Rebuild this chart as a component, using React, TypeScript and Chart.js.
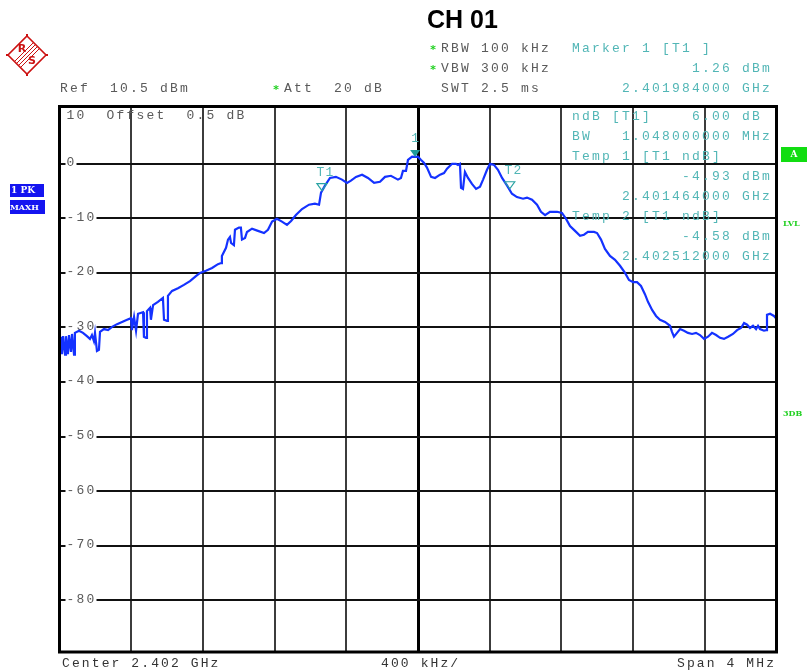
import React, { useEffect, useRef } from "react";
import { Chart, registerables } from "chart.js";

Chart.register(...registerables);

// ---- Trace data (Max hold, frequency in MHz, level in dBm) ----
const FREQ_MHZ = [
  2400.008, 2400.014, 2400.02, 2400.031, 2400.036, 2400.047, 2400.053, 2400.064, 2400.07, 2400.081, 2400.086,
  2400.109, 2400.131, 2400.153, 2400.17, 2400.181, 2400.192, 2400.198, 2400.209, 2400.22, 2400.226,
  2400.248, 2400.271, 2400.293, 2400.321, 2400.349, 2400.377, 2400.399, 2400.404, 2400.416, 2400.427,
  2400.438, 2400.466, 2400.471, 2400.483, 2400.488, 2400.505, 2400.51, 2400.522, 2400.549, 2400.577,
  2400.583, 2400.6, 2400.605, 2400.628, 2400.661, 2400.694, 2400.728, 2400.761, 2400.784, 2400.817,
  2400.851, 2400.884, 2400.901, 2400.906, 2400.929, 2400.94, 2400.951, 2400.957, 2400.973, 2400.979,
  2401.001, 2401.012, 2401.018, 2401.035, 2401.046, 2401.074, 2401.107, 2401.141, 2401.163, 2401.186,
  2401.213, 2401.241, 2401.269, 2401.292, 2401.319, 2401.353, 2401.392, 2401.425, 2401.448, 2401.459,
  2401.481, 2401.509, 2401.542, 2401.576, 2401.604, 2401.626, 2401.654, 2401.688, 2401.721, 2401.755,
  2401.788, 2401.816, 2401.849, 2401.888, 2401.905, 2401.916, 2401.933, 2401.944, 2401.967, 2401.984, 2402.0,
  2402.017, 2402.033, 2402.05, 2402.073, 2402.095, 2402.123, 2402.145, 2402.162, 2402.19, 2402.212,
  2402.223, 2402.234, 2402.24, 2402.251, 2402.262, 2402.279, 2402.301, 2402.324, 2402.346, 2402.363,
  2402.385, 2402.402, 2402.424, 2402.446, 2402.469, 2402.497, 2402.524, 2402.552, 2402.586, 2402.608,
  2402.636, 2402.664, 2402.686, 2402.709, 2402.736, 2402.776, 2402.803, 2402.826, 2402.848, 2402.876,
  2402.904, 2402.926, 2402.948, 2402.982, 2402.999, 2403.021, 2403.043, 2403.071, 2403.099, 2403.127,
  2403.155, 2403.177, 2403.2, 2403.222, 2403.244, 2403.266, 2403.283, 2403.306, 2403.328, 2403.35,
  2403.378, 2403.406, 2403.417, 2403.428, 2403.445, 2403.462, 2403.484, 2403.506, 2403.529, 2403.551,
  2403.573, 2403.596, 2403.618, 2403.64, 2403.663, 2403.685, 2403.707, 2403.73, 2403.757, 2403.78,
  2403.802, 2403.819, 2403.836, 2403.852, 2403.869, 2403.886, 2403.897, 2403.908, 2403.93, 2403.942,
  2403.947, 2403.964, 2403.986, 2403.997,
];

const LEVEL_DBM = [
  -31.7, -34.9, -31.6, -35.0, -31.6, -34.9, -31.4, -34.5, -31.2, -35.0, -31.0,
  -30.6, -31.0, -31.6, -32.1, -31.4, -32.5, -31.0, -34.3, -34.1, -30.8,
  -30.3, -30.5, -29.9, -29.4, -29.0, -28.6, -28.3, -30.5, -28.1, -30.6,
  -27.5, -27.2, -31.7, -31.9, -27.0, -26.4, -28.6, -25.9, -25.3, -24.6,
  -28.6, -28.8, -24.2, -23.3, -22.8, -22.2, -21.5, -20.6, -20.0, -19.6,
  -19.1, -18.4, -18.2, -16.9, -15.4, -13.9, -13.4, -14.5, -14.9, -12.1,
  -11.7, -11.7, -13.9, -13.6, -12.5, -11.9, -12.3, -12.7, -12.1, -10.6,
  -10.1, -10.6, -11.2, -10.5, -9.4, -8.3, -7.5, -7.3, -7.5, -5.3,
  -4.0, -2.6, -2.4, -2.9, -3.5, -3.1, -2.4, -2.0, -2.6, -3.5,
  -3.3, -2.4, -2.2, -2.9, -2.6, -1.3, -1.3, 0.7, 1.3, 1.26, 1.3,
  0.7, 0.2, -0.7, -2.4, -2.6, -2.0, -1.7, -0.9, 0.0, 0.0,
  -0.2, 0.0, -4.4, -4.6, -1.5, -2.6, -3.7, -4.6, -4.2, -2.9,
  -1.1, 0.0, -0.2, -1.1, -2.6, -4.0, -5.5, -6.1, -6.4, -6.2,
  -6.6, -7.5, -8.8, -9.4, -8.8, -8.8, -9.0, -10.1, -11.4, -12.3,
  -13.2, -13.0, -12.5, -12.5, -12.7, -13.9, -15.6, -16.9, -17.6, -18.7,
  -20.0, -21.3, -21.7, -21.7, -22.4, -23.9, -25.3, -26.8, -27.9, -28.6,
  -29.0, -29.7, -30.8, -31.7, -31.0, -30.3, -30.6, -31.0, -31.2, -31.0,
  -31.4, -32.1, -31.7, -31.0, -31.4, -31.9, -32.1, -31.7, -31.2, -30.5,
  -30.1, -29.2, -29.5, -30.1, -29.7, -30.3, -29.7, -30.3, -30.6, -30.5,
  -27.7, -27.5, -27.9, -28.3,
];

// ---- Axes ----
const X_MIN_MHZ = 2400.0;
const X_MAX_MHZ = 2404.0;
const CENTER_MHZ = 2402.0;
const X_GRID_MHZ = [2400.4, 2400.8, 2401.2, 2401.6, 2402.0, 2402.4, 2402.8, 2403.2, 2403.6];
const Y_MIN_DBM = -89.5;
const Y_MAX_DBM = 10.5;
const Y_GRID_DBM = [0, -10, -20, -30, -40, -50, -60, -70, -80];
const Y_LABELS = ["0", "-10", "-20", "-30", "-40", "-50", "-60", "-70", "-80"];

// ---- Markers ----
const MARKER_FREQ = [2401.984, 2401.464, 2402.512];
const MARKER_LEVEL = [1.26, -4.93, -4.58];
const MARKER_NAME = ["1", "T1", "T2"];
const MARKER_FILLED = [true, false, false];

// ---- Texts ----
const TITLE = "CH 01";
const HEADER_LEFT = ["RBW 100 kHz", "VBW 300 kHz", "SWT 2.5 ms"];
const HEADER_STAR = [true, true, false];
const MARKER_HEAD = ["Marker 1 [T1 ]", "            1.26 dBm", "     2.401984000 GHz"];
const MARKER_INFO = [
  "ndB [T1]    6.00 dB",
  "BW   1.048000000 MHz",
  "Temp 1 [T1 ndB]",
  "           -4.93 dBm",
  "     2.401464000 GHz",
  "Temp 2 [T1 ndB]",
  "           -4.58 dBm",
  "     2.402512000 GHz",
];
const REF_TEXT = "Ref  10.5 dBm";
const ATT_TEXT = "Att  20 dB";
const TOP_IN_PLOT = "10  Offset  0.5 dB";
const BOTTOM_LEFT = "Center 2.402 GHz";
const BOTTOM_MID = "400 kHz/";
const BOTTOM_RIGHT = "Span 4 MHz";

const MONO = '13px "Liberation Mono", "DejaVu Sans Mono", monospace';
const PITCH = 10;
const GRAY = "#5a5a5a";
const CYAN = "#52b6b6";
const GREEN = "#22d022";

function mono(ctx: CanvasRenderingContext2D, text: string, x: number, y: number, color: string, pitch = PITCH, font = MONO) {
  ctx.save();
  ctx.font = font;
  ctx.fillStyle = color;
  ctx.textAlign = "center";
  ctx.textBaseline = "middle";
  for (let i = 0; i < text.length; i++) {
    const ch = text[i];
    if (ch !== " ") ctx.fillText(ch, x + i * pitch + pitch / 2 - 1, y);
  }
  ctx.restore();
}

function star(ctx: CanvasRenderingContext2D, x: number, y: number) {
  ctx.save();
  ctx.font = 'bold 11px "DejaVu Sans Mono", monospace';
  ctx.fillStyle = GREEN;
  ctx.textAlign = "center";
  ctx.textBaseline = "middle";
  ctx.fillText("*", x, y + 1);
  ctx.restore();
}

const overlayPlugin = {
  id: "rsOverlay",
  beforeDatasetsDraw(chart: any) {
    const ctx: CanvasRenderingContext2D = chart.ctx;
    const yScale = chart.scales.y;
    const area = chart.chartArea;
    // y labels with white background, inside the plot
    Y_GRID_DBM.forEach((v, i) => {
      const py = yScale.getPixelForValue(v);
      const label = Y_LABELS[i];
      ctx.save();
      ctx.fillStyle = "#ffffff";
      ctx.fillRect(area.left + 6, py - 3, label.length * PITCH + 1, 6);
      ctx.restore();
      mono(ctx, label, area.left + 7, py - 1, GRAY);
    });
    mono(ctx, TOP_IN_PLOT, area.left + 7, 116, GRAY);
  },
  afterDatasetsDraw(chart: any) {
    const ctx: CanvasRenderingContext2D = chart.ctx;
    const xScale = chart.scales.x;
    const yScale = chart.scales.y;
    const area = chart.chartArea;

    // marker info
    MARKER_INFO.forEach((t, i) => mono(ctx, t, 572, 117 + i * 20, CYAN));

    // markers
    MARKER_FREQ.forEach((f, i) => {
      const px = xScale.getPixelForValue(f);
      const py = yScale.getPixelForValue(MARKER_LEVEL[i]);
      ctx.save();
      ctx.beginPath();
      ctx.moveTo(px, py);
      ctx.lineTo(px - 5, py - 7);
      ctx.lineTo(px + 5, py - 7);
      ctx.closePath();
      if (MARKER_FILLED[i]) {
        ctx.fillStyle = "#1e9a9a";
        ctx.fill();
      } else {
        ctx.strokeStyle = "#2aa3a3";
        ctx.lineWidth = 1.2;
        ctx.stroke();
      }
      ctx.restore();
      const name = MARKER_NAME[i];
      if (name.length === 1) {
        mono(ctx, name, px - 4, py - 18, CYAN);
      } else {
        mono(ctx, name, px - 5, py - 18, CYAN, 9);
      }
    });

    // plot border
    ctx.save();
    ctx.strokeStyle = "#000";
    ctx.lineWidth = 3;
    ctx.strokeRect(area.left, area.top, area.right - area.left, area.bottom - area.top);
    ctx.restore();
  },
  afterDraw(chart: any) {
    const ctx: CanvasRenderingContext2D = chart.ctx;

    // title
    ctx.save();
    ctx.font = 'bold 25px "Liberation Sans", Arial, sans-serif';
    ctx.fillStyle = "#000";
    ctx.textBaseline = "middle";
    ctx.textAlign = "left";
    ctx.fillText(TITLE, 427, 21);
    ctx.restore();

    // header rows
    HEADER_LEFT.forEach((t, i) => {
      const y = 49 + i * 20;
      if (HEADER_STAR[i]) star(ctx, 433, y);
      mono(ctx, t, 441, y, GRAY);
      mono(ctx, MARKER_HEAD[i], 572, y, CYAN);
    });
    mono(ctx, REF_TEXT, 60, 89, GRAY);
    star(ctx, 276, 89);
    mono(ctx, ATT_TEXT, 284, 89, GRAY);

    // bottom
    mono(ctx, BOTTOM_LEFT, 62, 664, "#333", 9.9);
    mono(ctx, BOTTOM_MID, 381, 664, "#333", 9.9);
    mono(ctx, BOTTOM_RIGHT, 677, 664, "#333", 9.9);

    // left blue boxes
    ctx.save();
    ctx.fillStyle = "#1414f0";
    ctx.fillRect(10, 184, 34, 13);
    ctx.fillRect(10, 200, 35, 14);
    ctx.fillStyle = "#ffffff";
    ctx.font = 'bold 9px "DejaVu Serif", serif';
    ctx.textBaseline = "middle";
    ctx.textAlign = "left";
    ctx.fillText("1 PK", 11, 191);
    ctx.font = 'bold 8px "DejaVu Serif", serif';
    ctx.fillText("MAXH", 10, 207.5);
    ctx.restore();

    // right green items
    ctx.save();
    ctx.fillStyle = "#11dd11";
    ctx.fillRect(781, 147, 26, 15);
    ctx.fillStyle = "#ffffff";
    ctx.font = 'bold 9px "DejaVu Serif", serif';
    ctx.textAlign = "center";
    ctx.textBaseline = "middle";
    ctx.fillText("A", 794, 155);
    ctx.fillStyle = GREEN;
    ctx.textAlign = "left";
    ctx.font = 'bold 8px "DejaVu Serif", serif';
    ctx.fillText("LVL", 783, 224);
    ctx.fillText("3DB", 783, 414);
    ctx.restore();

    // R&S logo
    ctx.save();
    ctx.strokeStyle = "#cc1111";
    ctx.fillStyle = "#cc1111";
    ctx.lineWidth = 1.6;
    ctx.translate(27, 55);
    ctx.beginPath();
    ctx.moveTo(0, -19);
    ctx.lineTo(19, 0);
    ctx.lineTo(0, 19);
    ctx.lineTo(-19, 0);
    ctx.closePath();
    ctx.stroke();
    ctx.lineWidth = 1;
    for (let d = -3; d <= 3; d += 2) {
      ctx.beginPath();
      ctx.moveTo(10 + d, -10 + d);
      ctx.lineTo(-10 + d, 10 + d);
      ctx.stroke();
    }
    ctx.font = 'bold 11px "DejaVu Sans", sans-serif';
    ctx.textAlign = "center";
    ctx.textBaseline = "middle";
    ctx.fillText("R", -5, -6);
    ctx.fillText("S", 5, 6);
    [[0, -20], [20, 0], [0, 20], [-20, 0]].forEach(([a, b]) => {
      ctx.fillRect(a - 1, b - 1, 2, 2);
    });
    ctx.restore();
  },
};

export default function App() {
  const canvasRef = useRef<HTMLCanvasElement | null>(null);

  useEffect(() => {
    if (!canvasRef.current) return;
    const points = FREQ_MHZ.map((f, i) => ({ x: f, y: LEVEL_DBM[i] }));
    const chart = new Chart(canvasRef.current, {
      type: "line",
      data: {
        datasets: [
          {
            data: points,
            borderColor: "#1432ff",
            borderWidth: 2.2,
            pointRadius: 0,
            tension: 0,
            fill: false,
          },
        ],
      },
      options: {
        animation: false,
        responsive: false,
        maintainAspectRatio: false,
        devicePixelRatio: 1,
        events: [],
        layout: { padding: { left: 59.5, top: 106.5, right: 31.5, bottom: 20 } },
        plugins: { legend: { display: false }, tooltip: { enabled: false } },
        scales: {
          x: {
            type: "linear",
            min: X_MIN_MHZ,
            max: X_MAX_MHZ,
            afterBuildTicks: (scale: any) => {
              scale.ticks = X_GRID_MHZ.map((v) => ({ value: v }));
            },
            afterFit: (scale: any) => {
              scale.height = 0;
            },
            ticks: { display: false },
            border: { display: false },
            grid: {
              drawTicks: false,
              color: (c: any) => (c.tick && Math.abs(c.tick.value - CENTER_MHZ) < 1e-6 ? "#000000" : "#3c3c3c"),
              lineWidth: (c: any) => (c.tick && Math.abs(c.tick.value - CENTER_MHZ) < 1e-6 ? 3 : 2),
            },
          },
          y: {
            type: "linear",
            min: Y_MIN_DBM,
            max: Y_MAX_DBM,
            afterBuildTicks: (scale: any) => {
              scale.ticks = Y_GRID_DBM.map((v) => ({ value: v }));
            },
            afterFit: (scale: any) => {
              scale.width = 0;
            },
            ticks: { display: false },
            border: { display: false },
            grid: { drawTicks: false, color: "#111111", lineWidth: 2 },
          },
        },
      },
      plugins: [overlayPlugin],
    } as any);
    return () => chart.destroy();
  }, []);

  return (
    <div style={{ position: "fixed", left: 0, top: 0, width: 808, height: 672, background: "#fff" }}>
      <canvas ref={canvasRef} width={808} height={672} style={{ display: "block", width: 808, height: 672 }} />
    </div>
  );
}
